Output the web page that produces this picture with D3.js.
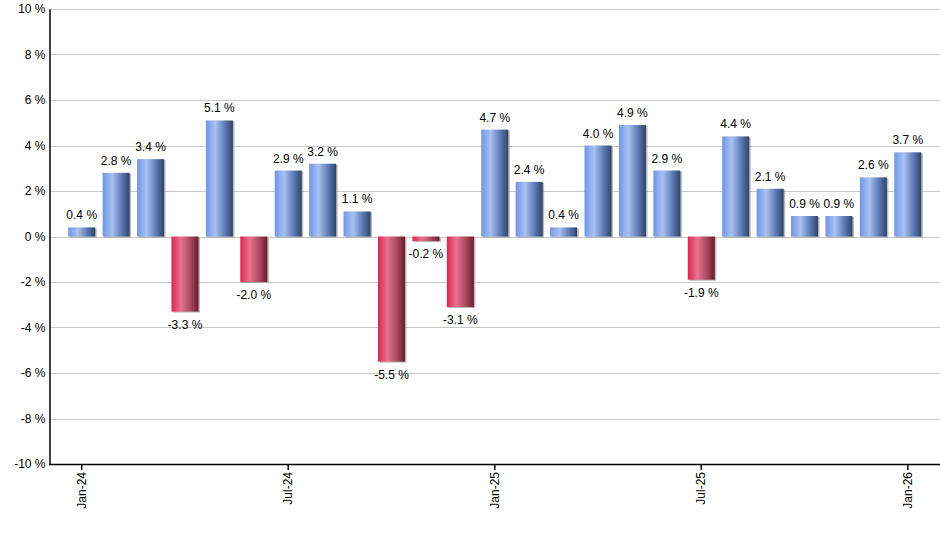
<!DOCTYPE html>
<html lang="en">
<head>
  <meta charset="UTF-8">
  <title>monthly-returns</title>
  <script src="https://d3js.org/d3.v7.min.js"></script>
  <style>
    body { margin: 0; background: #fff; }
    text { font-family: "Liberation Sans", Arial, sans-serif; font-size: 12px; fill: #000; }
  </style>
</head>
<body>
<script>
  const WIDTH = 940;
  const HEIGHT = 550;

  const months = ['Jan-24', 'Feb-24', 'Mar-24', 'Apr-24', 'May-24', 'Jun-24', 'Jul-24', 'Aug-24', 'Sep-24',
    'Oct-24', 'Nov-24', 'Dec-24', 'Jan-25', 'Feb-25', 'Mar-25', 'Apr-25', 'May-25', 'Jun-25', 'Jul-25',
    'Aug-25', 'Sep-25', 'Oct-25', 'Nov-25', 'Dec-25', 'Jan-26'];
  const returns = [0.4, 2.8, 3.4, -3.3, 5.1, -2.0, 2.9, 3.2, 1.1, -5.5, -0.2, -3.1, 4.7, 2.4, 0.4,
    4.0, 4.9, 2.9, -1.9, 4.4, 2.1, 0.9, 0.9, 2.6, 3.7];
  const tickMonths = ['Jan-24', 'Jul-24', 'Jan-25', 'Jul-25', 'Jan-26'];
  const yTicks = [-10, -8, -6, -4, -2, 0, 2, 4, 6, 8, 10];

  const plotLeft = 49, plotRight = 940, plotTop = 9, plotBottom = 464;

  const x = d3.scaleBand()
    .domain(months)
    .range([64.5, 925])
    .paddingInner(0.215)
    .paddingOuter(0.1075);

  const y = d3.scaleLinear()
    .domain([-10, 10])
    .range([plotBottom, plotTop]);

  const svg = d3.select('body')
    .append('svg')
    .attr('width', WIDTH)
    .attr('height', HEIGHT);

  const defs = svg.append('defs');
  function gradient(id, stops) {
    const g = defs.append('linearGradient').attr('id', id)
      .attr('x1', '0%').attr('x2', '100%').attr('y1', '0%').attr('y2', '0%');
    stops.forEach(s => g.append('stop').attr('offset', s[0]).attr('stop-color', s[1]));
  }
  gradient('blue', [['0%', '#6f96e6'], ['35%', '#a9c1f2'], ['70%', '#5e7bb5'], ['100%', '#2f4468']]);
  gradient('red', [['0%', '#dc2550'], ['35%', '#e9738d'], ['70%', '#a84a60'], ['100%', '#6a1b2c']]);

  // grid
  svg.append('g')
    .selectAll('line')
    .data(yTicks)
    .enter()
    .append('line')
    .attr('x1', plotLeft)
    .attr('x2', plotRight)
    .attr('y1', d => Math.round(y(d)) + 0.5)
    .attr('y2', d => Math.round(y(d)) + 0.5)
    .attr('stroke', '#c8c8c8');

  const bars = svg.append('g');

  // shadows
  bars.selectAll('rect.shadow')
    .data(returns)
    .enter()
    .append('rect')
    .attr('class', 'shadow')
    .attr('x', (d, i) => x(months[i]) + 1.5)
    .attr('y', d => Math.min(y(d), y(0)) + 1)
    .attr('width', x.bandwidth())
    .attr('height', d => Math.abs(y(d) - y(0)))
    .attr('fill', '#9a9a9a')
    .attr('opacity', 0.7);

  bars.selectAll('rect.bar')
    .data(returns)
    .enter()
    .append('rect')
    .attr('class', 'bar')
    .attr('x', (d, i) => x(months[i]))
    .attr('y', d => Math.min(y(d), y(0)))
    .attr('width', x.bandwidth())
    .attr('height', d => Math.abs(y(d) - y(0)))
    .attr('fill', d => d >= 0 ? 'url(#blue)' : 'url(#red)');

  bars.selectAll('text')
    .data(returns)
    .enter()
    .append('text')
    .attr('x', (d, i) => x(months[i]) + x.bandwidth() / 2)
    .attr('y', d => d >= 0 ? y(d) - 8 : y(d) + 17)
    .attr('text-anchor', 'middle')
    .text(d => d.toFixed(1) + ' %');

  // y axis
  const yAxis = d3.axisLeft(y)
    .tickValues(yTicks)
    .tickSize(0)
    .tickPadding(4)
    .tickFormat(d => d + ' %');

  svg.append('g')
    .attr('transform', `translate(${plotLeft + 0.5}, 0)`)
    .call(yAxis)
    .call(g => g.select('.domain').attr('stroke', '#000').attr('stroke-width', 1.5))
    .call(g => g.selectAll('text').attr('font-size', 12).attr('font-family', '"Liberation Sans", Arial, sans-serif'));

  // x axis
  const xAxis = d3.axisBottom(x)
    .tickValues(tickMonths)
    .tickSize(6)
    .tickSizeOuter(0)
    .tickPadding(4);

  svg.append('g')
    .attr('transform', `translate(0, ${plotBottom})`)
    .call(xAxis)
    .call(g => g.select('.domain').attr('d', `M${plotLeft},0.5H${plotRight}`).attr('stroke', '#000').attr('stroke-width', 1.5))
    .call(g => g.selectAll('.tick line').attr('stroke', '#000').attr('stroke-width', 1.5))
    .call(g => g.selectAll('text')
      .attr('font-size', 12)
      .attr('font-family', '"Liberation Sans", Arial, sans-serif')
      .attr('transform', 'rotate(-90)')
      .attr('text-anchor', 'end')
      .attr('x', -8)
      .attr('y', 0)
      .attr('dy', '0.35em'));
</script>
</body>
</html>
